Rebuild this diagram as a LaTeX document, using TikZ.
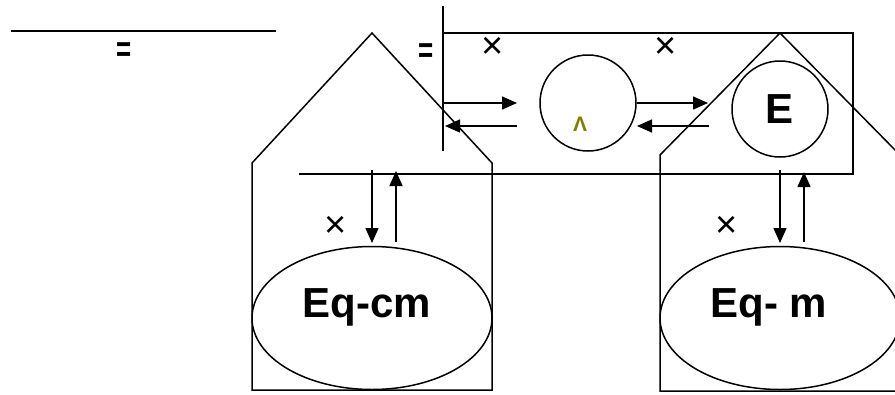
\documentclass[tikz,border=0pt]{standalone}
\usepackage{fontspec}
\setmainfont{Liberation Sans}
\usetikzlibrary{arrows.meta,shapes.geometric,calc}
\definecolor{olivetxt}{RGB}{128,128,0}
\begin{document}
\begin{tikzpicture}[x=1pt,y=-1pt,line width=1.5pt,
  arr/.style={-{Triangle[length=15pt,width=13pt]}},
  big/.style={font=\fontsize{42}{42}\selectfont\bfseries,inner sep=0pt},
  crs/.style={font=\fontsize{38}{38}\selectfont,inner sep=0pt},
  eqs/.style={font=\fontsize{26}{26}\selectfont\bfseries,inner sep=0pt,yscale=-1.4},
  circ/.style={draw,circle,minimum size=96pt,inner sep=0pt},
  ell/.style={draw,ellipse,minimum width=240pt,minimum height=143pt,inner sep=0pt}]
\clip (0,0) rectangle (895,394);
% top-left line and equals signs
\coordinate (tl1) at (11,31); \coordinate (tl2) at (276,31);
\draw (tl1) -- (tl2);
\node[eqs] (eq1) at (124,47) {=};
\node[eqs] (eq2) at (426,48) {=};
% pentagons
\draw (252,390) -- (252,163) -- (372,33) -- (492,163) -- (492,390) -- cycle;
\draw (660,391) -- (660,155) -- (780,33) -- (900,155) -- (900,391) -- cycle;
% open box
\coordinate (vt) at (443,6); \coordinate (vb) at (443,151);
\draw (vt) -- (vb);
\coordinate (bt1) at (443,33); \coordinate (bt2) at (853,33);
\coordinate (bb1) at (299,174); \coordinate (bb2) at (853,174);
\draw (bt1) -- (bt2) -- (bb2) -- (bb1);
% circles
\node[circ] (c1) at (588,103) {};
\node[circ] (c2) at (780,109) {};
\node[big] (E) at (c2) {E};
\node[font=\fontsize{21}{21}\selectfont\bfseries,text=olivetxt,inner sep=0pt,anchor=base] (lam) at (580,131) {Λ};
% crosses
\node[crs] (x1) at (493,48) {×};
\node[crs] (x2) at (666,48) {×};
\node[crs] (x3) at (336,227) {×};
\node[crs] (x4) at (727,227) {×};
% horizontal arrows
\coordinate (h1a) at (443,103); \coordinate (h1b) at (517,103);
\coordinate (h2a) at (517,126); \coordinate (h2b) at (445,126);
\coordinate (h3b) at (708,103);
\coordinate (h4a) at (709,126); \coordinate (h4b) at (637,126);
\draw[arr] (h1a) -- (h1b);
\draw[arr] (h2a) -- (h2b);
\draw[arr] (c1.east) -- (h3b);
\draw[arr] (h4a) -- (h4b);
% ellipses
\node[ell] (e1) at (372,318) {};
\node[ell] (e2) at (780,318) {};
\node[big,anchor=base] (t1) at (367,317) {Eq-cm};
\node[big,anchor=base] (t2) at (769,317) {Eq- m};
% vertical arrows
\coordinate (d1a) at (372,170); \coordinate (d1b) at (372,243);
\coordinate (u1a) at (396,242); \coordinate (u1b) at (396,171);
\coordinate (d2a) at (780,170); \coordinate (d2b) at (780,243);
\coordinate (u2a) at (804,242); \coordinate (u2b) at (804,172);
\draw[arr] (d1a) -- (d1b);
\draw[arr] (u1a) -- (u1b);
\draw[arr] (d2a) -- (d2b);
\draw[arr] (u2a) -- (u2b);
\end{tikzpicture}
\end{document}
